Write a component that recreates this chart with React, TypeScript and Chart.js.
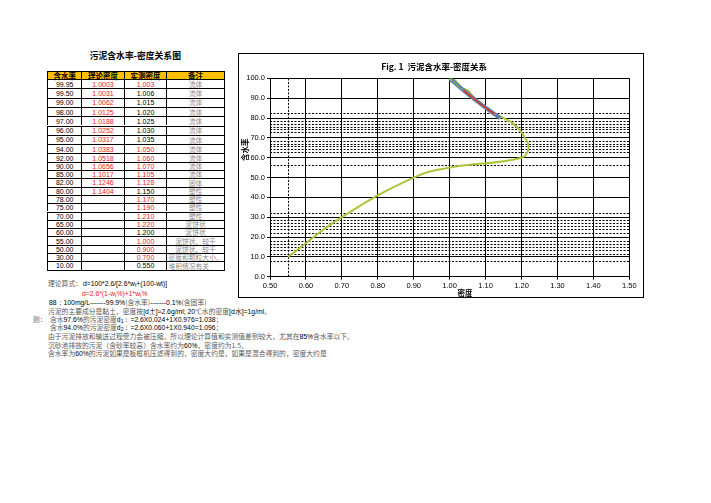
import React, { useEffect, useRef } from "react";
import { Chart, registerables } from "chart.js";
Chart.register(...registerables);

// ---------- data ----------
const waterContent = [99.95, 99.5, 99, 98, 97, 96, 95, 94, 92, 90, 85, 82, 80, 78, 75, 70, 65, 60, 55, 50, 30, 10];
const theoreticalDensity: (number | null)[] = [1.0003, 1.0031, 1.0062, 1.0125, 1.0188, 1.0252, 1.0317, 1.0383, 1.0518, 1.0656, 1.1017, 1.1246, 1.1404, null, null, null, null, null, null, null, null, null];
const measuredDensity = [1.003, 1.006, 1.015, 1.02, 1.025, 1.03, 1.035, 1.05, 1.06, 1.07, 1.105, 1.128, 1.15, 1.17, 1.19, 1.21, 1.22, 1.2, 1.0, 0.9, 0.7, 0.55];
const measuredRed = [true, false, false, false, false, false, false, true, true, true, true, true, false, true, true, true, true, false, true, true, true, false];
const remarks = ["流体", "流体", "流体", "流体", "流体", "流体", "流体", "流体", "流体", "流体", "流体", "固体", "塑性", "塑性", "塑性", "塑性", "泥饼状", "泥饼状", "泥饼状、较干", "泥饼状、较干", "密度和颗粒大小、", "堆积情况有关"];
const headers = ["含水率", "理论密度", "实测密度", "备注"];
const redOverlayRange = [82, 94];
const xTicks = [0.5, 0.6, 0.7, 0.8, 0.9, 1.0, 1.1, 1.2, 1.3, 1.4, 1.5];
const yTicks = [0, 10, 20, 30, 40, 50, 60, 70, 80, 90, 100];
const dashedY = [82.3, 78.6, 77.1, 75.7, 74.3, 72.9, 68.6, 67.1, 65.7, 64.3, 62.9, 56.1, 32.3, 28.6, 27.1, 25.6, 24.1, 22.0, 18.0, 16.5, 15.0, 13.5, 11.5, 8.0];
const dashedX = [0.55];
const chartTitle = "Fig. 1  污泥含水率-密度关系";
const xTitle = "密度";
const yTitle = "含水率";

// ---------- layout ----------
const colWidths = [34.4, 42.3, 42.7, 57.3];
const rowHeights = [8, ...Array(8).fill(9.3), ...Array(14).fill(8.3)];

const GRAY = "#5a5a5a";
const RED = "#e8202a";
const NUM_FONT = "'Liberation Sans', Arial, sans-serif";
const CJK_FONT = "'Noto Sans CJK SC', sans-serif";

function ChartBox() {
  const ref = useRef<HTMLCanvasElement | null>(null);
  useEffect(() => {
    if (!ref.current) return;
    const green = waterContent.map((w, i) => ({ x: measuredDensity[i], y: w }));
    const blue = waterContent
      .map((w, i) => (theoreticalDensity[i] == null ? null : { x: theoreticalDensity[i] as number, y: w }))
      .filter((p) => p !== null) as { x: number; y: number }[];
    const red = blue.filter((p) => p.y >= redOverlayRange[0] && p.y <= redOverlayRange[1]);

    const refLines = {
      id: "refLines",
      beforeDatasetsDraw(chart: any) {
        const { ctx, chartArea, scales } = chart;
        ctx.save();
        ctx.strokeStyle = "#000";
        ctx.lineWidth = 1;
        ctx.setLineDash([2, 1.5]);
        dashedY.forEach((v) => {
          const y = Math.round(scales.y.getPixelForValue(v)) + 0.5;
          ctx.beginPath();
          ctx.moveTo(chartArea.left, y);
          ctx.lineTo(chartArea.right, y);
          ctx.stroke();
        });
        dashedX.forEach((v) => {
          const x = Math.round(scales.x.getPixelForValue(v)) + 0.5;
          ctx.beginPath();
          ctx.moveTo(x, chartArea.top);
          ctx.lineTo(x, chartArea.bottom);
          ctx.stroke();
        });
        ctx.restore();
      },
    };
    const axisTitles = {
      id: "axisTitles",
      afterDraw(chart: any) {
        const { ctx, chartArea } = chart;
        ctx.save();
        ctx.fillStyle = "#000";
        ctx.font = `bold 7.5px ${CJK_FONT}`;
        ctx.textAlign = "center";
        ctx.textBaseline = "middle";
        ctx.fillText(xTitle, chartArea.left + chartArea.width * 0.543, chartArea.bottom + 16.5);
        ctx.translate(chartArea.left - 25, chartArea.top + chartArea.height * 0.36);
        ctx.rotate(-Math.PI / 2);
        ctx.fillText(yTitle, 0, 0);
        ctx.restore();
      },
    };

    const tickFont = { family: NUM_FONT, size: 7.5 };
    const chart = new Chart(ref.current, {
      type: "scatter",
      data: {
        datasets: [
          {
            label: "实测密度",
            data: green,
            showLine: true,
            borderColor: "#a8c83a",
            borderWidth: 2,
            pointRadius: 0,
            tension: 0.45,
            order: 3,
          },
          {
            label: "理论密度",
            data: blue,
            showLine: true,
            borderColor: "#587fae",
            borderWidth: 4,
            pointRadius: 0.9,
            pointBorderWidth: 0,
            pointBackgroundColor: "#9cc24a",
            tension: 0.3,
            order: 2,
          },
          {
            label: "理论密度(段)",
            data: red,
            showLine: true,
            borderColor: "#e8321e",
            borderWidth: 1.5,
            pointRadius: 0,
            tension: 0.3,
            order: 1,
          },
        ],
      },
      options: {
        animation: false,
        responsive: false,
        maintainAspectRatio: false,
        layout: { padding: { left: 0, right: 13.7, top: 0, bottom: 0 } },
        plugins: {
          legend: { display: false },
          tooltip: { enabled: false },
          title: {
            display: true,
            text: chartTitle,
            color: "#000",
            font: { family: CJK_FONT, size: 8.5, weight: "bold", lineHeight: 1.2 },
            padding: { top: 7.2, bottom: 7.0 },
          },
        },
        scales: {
          x: {
            type: "linear",
            min: 0.5,
            max: 1.5,
            afterBuildTicks: (axis: any) => {
              axis.ticks = xTicks.map((v) => ({ value: v }));
            },
            afterFit: (s: any) => {
              s.height = 20.3;
            },
            ticks: {
              color: "#000",
              font: tickFont,
              padding: 2,
              maxRotation: 0,
              autoSkip: false,
              callback: (v: any) => Number(v).toFixed(2),
            },
            grid: { color: "#000", lineWidth: 1, tickLength: 3, drawTicks: true },
            border: { color: "#000", width: 1 },
          },
          y: {
            type: "linear",
            min: 0,
            max: 100,
            afterBuildTicks: (axis: any) => {
              axis.ticks = yTicks.map((v) => ({ value: v }));
            },
            afterFit: (s: any) => {
              s.width = 31;
            },
            ticks: {
              color: "#000",
              font: tickFont,
              padding: 2,
              autoSkip: false,
              callback: (v: any) => Number(v).toFixed(1),
            },
            grid: { color: "#000", lineWidth: 1, tickLength: 3, drawTicks: true },
            border: { color: "#000", width: 1 },
          },
        },
      },
      plugins: [refLines, axisTitles],
    } as any);
    return () => chart.destroy();
  }, []);
  return (
    <div
      style={{
        position: "absolute",
        left: 238,
        top: 53,
        width: 406,
        height: 245,
        border: "1px solid #000",
        boxSizing: "border-box",
        background: "#fff",
      }}
    >
      <canvas ref={ref} width={404} height={243} style={{ position: "absolute", left: 0, top: 0, width: 404, height: 243 }} />
    </div>
  );
}

function DataTable() {
  const left0 = 47;
  const top0 = 71;
  const xs: number[] = [];
  colWidths.reduce((acc, w) => {
    xs.push(acc);
    return acc + w;
  }, 0);
  const ys: number[] = [];
  rowHeights.reduce((acc, h) => {
    ys.push(acc);
    return acc + h;
  }, 0);
  const totalW = colWidths.reduce((a, b) => a + b, 0);
  const totalH = rowHeights.reduce((a, b) => a + b, 0);

  const cells: React.ReactNode[] = [];
  const cell = (r: number, c: number, content: React.ReactNode, style: React.CSSProperties, align: "center" | "flex-start" = "center") => {
    cells.push(
      <div
        key={`${r}-${c}`}
        style={{
          position: "absolute",
          left: xs[c],
          top: ys[r],
          width: colWidths[c],
          height: rowHeights[r],
          borderLeft: "1px solid #000",
          borderTop: "1px solid #000",
          boxSizing: "border-box",
          display: "flex",
          alignItems: "center",
          justifyContent: align,
          overflow: "visible",
          whiteSpace: "nowrap",
          lineHeight: 1,
          ...style,
        }}
      >
        {content}
      </div>
    );
  };
  headers.forEach((h, c) =>
    cell(0, c, h, { background: "#FFC000", fontFamily: CJK_FONT, fontWeight: "bold", fontSize: 7.5, color: "#000" })
  );
  waterContent.forEach((w, i) => {
    const r = i + 1;
    cell(r, 0, w.toFixed(2), { fontFamily: NUM_FONT, fontSize: 7, color: "#000" });
    const t = theoreticalDensity[i];
    cell(r, 1, t == null ? "" : t.toFixed(4), { fontFamily: NUM_FONT, fontSize: 7, color: RED });
    cell(r, 2, measuredDensity[i].toFixed(3), { fontFamily: NUM_FONT, fontSize: 7, color: measuredRed[i] ? RED : "#000" });
    const leftAlign = i >= waterContent.length - 2;
    cell(
      r,
      3,
      remarks[i],
      { fontFamily: CJK_FONT, fontSize: 6.8, color: "#8a8a8a", paddingLeft: leftAlign ? 1 : 0 },
      leftAlign ? "flex-start" : "center"
    );
  });

  return (
    <div
      style={{
        position: "absolute",
        left: left0,
        top: top0,
        width: totalW,
        height: totalH,
        borderRight: "1px solid #000",
        borderBottom: "1px solid #000",
        boxSizing: "content-box",
      }}
    >
      {cells}
    </div>
  );
}

const G = ({ children }: { children: React.ReactNode }) => (
  <span style={{ color: GRAY, fontFamily: CJK_FONT }}>{children}</span>
);
const B = ({ children }: { children: React.ReactNode }) => (
  <span style={{ color: "#000", fontFamily: NUM_FONT }}>{children}</span>
);

function Line({ x, y, children, style }: { x: number; y: number; children: React.ReactNode; style?: React.CSSProperties }) {
  return (
    <div
      style={{
        position: "absolute",
        left: x,
        top: y - 4.5,
        height: 9,
        lineHeight: "9px",
        fontSize: 6.8,
        whiteSpace: "nowrap",
        ...style,
      }}
    >
      {children}
    </div>
  );
}

const subStyle: React.CSSProperties = { fontSize: 5, verticalAlign: "-1px" };

export default function App() {
  return (
    <div
      style={{
        position: "absolute",
        left: 0,
        top: 0,
        width: 711,
        height: 503,
        background: "#fff",
        overflow: "hidden",
      }}
    >
      <div
        style={{
          position: "absolute",
          left: 47,
          width: 176.7,
          top: 50,
          height: 12,
          lineHeight: "12px",
          textAlign: "center",
          fontFamily: CJK_FONT,
          fontWeight: "bold",
          fontSize: 8.8,
          color: "#000",
        }}
      >
        污泥含水率-密度关系图
      </div>
      <DataTable />
      <Line x={48} y={283.3}>
        <G>理论算式：</G>
      </Line>
      <Line x={83} y={283.3}>
        <B>
          d=100*2.6/[2.6*w<span style={subStyle}>t</span>+(100-wt)]
        </B>
      </Line>
      <Line x={82} y={293.3}>
        <span style={{ color: RED, fontFamily: NUM_FONT }}>
          d=2.6*(1-w<span style={subStyle}>t</span>%)+1*w<span style={subStyle}>t</span>%
        </span>
      </Line>
      <Line x={49} y={302.3}>
        <B>88：100mg/L-------99.9%</B>
        <G>(含水率)</G>
        <B>-------0.1%</B>
        <G>(含固率)</G>
      </Line>
      <Line x={48} y={311}>
        <G>污泥的主要成分是黏土，密度按</G>
        <B>[d土]≈2.6g/ml; 20</B>
        <G>℃水的密度</G>
        <B>[d水]=1g/ml</B>
        <G>。</G>
      </Line>
      <Line x={33} y={319}>
        <G>则：</G>
      </Line>
      <Line x={50} y={319}>
        <G>含水</G>
        <B>97.6%</B>
        <G>的污泥密度</G>
        <B>
          d<span style={subStyle}>1</span>：=2.6X0.024+1X0.976=1.038
        </B>
        <G>；</G>
      </Line>
      <Line x={50} y={327.7}>
        <G>含水</G>
        <B>94.0%</B>
        <G>的污泥密度</G>
        <B>
          d<span style={subStyle}>2</span>：=2.6X0.060+1X0.940=1.096
        </B>
        <G>；</G>
      </Line>
      <Line x={48} y={336.7}>
        <G>由于污泥排放和输送过程受力会被压缩，所以理论计算值和实测值差别较大，尤其在</G>
        <B>85%</B>
        <G>含水率以下。</G>
      </Line>
      <Line x={48} y={345}>
        <G>沉砂池排放的污泥（含砂率较高）含水率约为</G>
        <B>60%</B>
        <G>，密度约为1.5。</G>
      </Line>
      <Line x={48} y={353.3}>
        <G>含水率为</G>
        <B>60%</B>
        <G>的污泥如果是板框机压滤得到的，密度大约是，如果是混合得到的，密度大约是</G>
      </Line>
      <ChartBox />
    </div>
  );
}
